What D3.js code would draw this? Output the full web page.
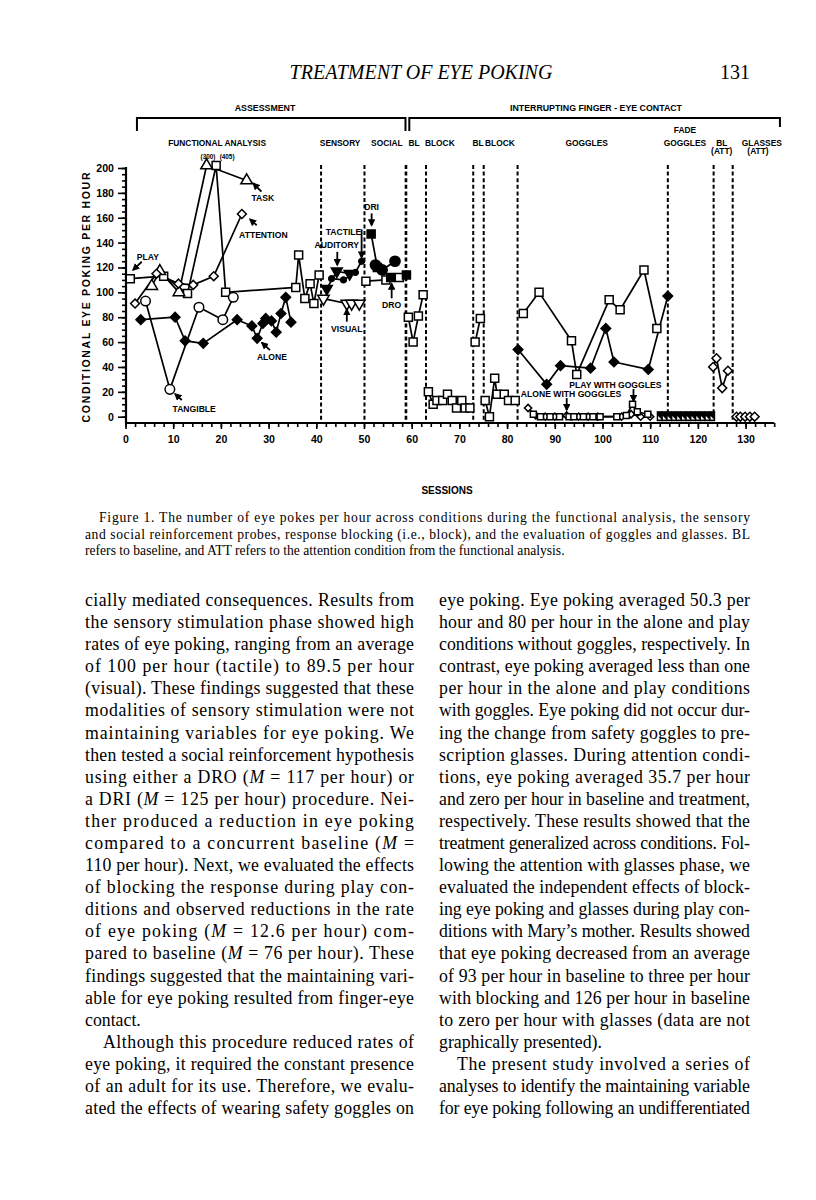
<!DOCTYPE html>
<html>
<head>
<meta charset="utf-8">
<title>Treatment of eye poking - Figure 1</title>
<script src="https://cdn.jsdelivr.net/npm/d3@7/dist/d3.min.js"></script>
<style>
  html, body { margin: 0; padding: 0; background: #fff; }
  svg { display: block; }
  .sans { font-family: "Liberation Sans", Arial, Helvetica, sans-serif; font-weight: bold; fill: #000; }
  .serif { font-family: "Liberation Serif", "Times New Roman", serif; fill: #000; white-space: pre; }
</style>
</head>
<body>
<svg id="page" width="816" height="1200"></svg>
<script>
// ---------- figure data: [session, eye pokes per hour] ----------
const sessionTicks = [0, 10, 20, 30, 40, 50, 60, 70, 80, 90, 100, 110, 120, 130];
const rateTicks = [0, 20, 40, 60, 80, 100, 120, 140, 160, 180, 200];
const phaseLines = [41, 50.1, 58.8, 63, 72.9, 75.1, 82.2, 113.7, 123.3, 127.3];

// functional analysis
const faPlay = [[1, 111], [8, 113], [13, 99], [19, 405], [21, 100], [35.7, 104], [36.3, 130], [37.6, 95], [38.7, 107], [39.5, 91], [40.6, 114]];
const faTask = [[5.5, 105], [7.2, 117], [11.2, 100], [17, 300], [25.4, 190]];
const faAttention = [[2, 91], [6.5, 115], [11.1, 107], [14.2, 106], [18.5, 113], [24.4, 163]];
const faTangible = [[4.2, 93], [9.3, 22], [15.4, 88], [20.4, 78], [22.6, 96]];
const faAlone = [[3.2, 78], [10.4, 80], [12.5, 61], [16.3, 59], [23.4, 78], [26.5, 73], [27.6, 63], [28.8, 75], [29.4, 79], [30.6, 77], [31.6, 68], [32.6, 83], [33.6, 96], [34.7, 76]];

// sensory and social probes
const visual = [[41.5, 95], [46.4, 91], [47.4, 91], [49, 91]];
const auditory = [[42.2, 103], [44.3, 117], [47, 115]];
const tactile = [[43.2, 111], [45.7, 110], [48.2, 116], [49.5, 125]];
const socialBL = [[50.4, 109], [54.6, 110], [57.4, 112]];
const dri = [[51.5, 147], [52.8, 120], [55.6, 112], [58.9, 114]];
const dro = [[52.4, 122], [53.8, 118], [56.5, 125]];

// baseline / blocking
const bl1 = [[59.3, 80], [60.3, 60], [61.4, 81], [62.4, 98]];
const block1 = [[63.5, 20], [64.5, 10], [65.3, 13], [66.5, 13], [67.5, 18], [68.5, 13], [69.4, 7], [70.5, 13], [71.2, 7], [72.2, 7]];
const bl2 = [[73.3, 60], [74.4, 79]];
const block2 = [[75.4, 13], [76.3, 0], [77.4, 31], [77.9, 18], [79.4, 18], [80.3, 13], [81.7, 13]];

// goggles
const aloneNoGoggles = [[82.3, 54], [88.3, 26], [91.2, 41], [97.5, 39], [100.7, 71], [102.4, 44], [109.6, 38], [113.7, 97]];
const playNoGoggles = [[83.4, 83], [86.7, 100], [93.5, 61], [94.6, 34], [101.4, 94], [103.7, 86], [108.7, 118], [111.4, 71]];
const aloneGoggles = [[84.4, 7], [86, 1], [88, 0], [90, 0], [92.5, 1], [95, 0], [97, 0], [99, 0], [104, 0], [106, 2], [108, 0], [110, 0]];
const playGoggles = [[85.5, 2], [87, 0], [89, 0], [91, 0], [93, 0], [94, 0], [96, 0], [98, 0], [99.5, 0], [103, 0], [105, 1], [106.3, 10], [107.3, 4], [109.5, 2]];
const fadeGoggles = [[112, 0], [113, 0], [114, 0], [115, 0], [116, 0], [117, 0], [118, 0], [119, 0], [120, 0], [121, 0], [122, 0], [123, 0]];
const blAtt = [[123.2, 40], [123.9, 47], [125.1, 23], [126.3, 37]];
const glassesAtt = [[128.1, 0], [128.9, 0], [129.9, 0], [130.9, 0], [131.9, 0]];

// labels pointing at the data (session, value)
const notes = [
  { text: "PLAY", at: [4.7, 128.6], from: [3.4, 124.6], to: [1.6, 118] },
  { text: "TASK", at: [28.8, 175.8], from: [28.5, 181], to: [26.8, 187.6] },
  { text: "ATTENTION", at: [28.9, 146], from: [27.5, 154], to: [26.1, 158.7] },
  { text: "ALONE", at: [30.7, 48.2], from: [30.3, 53.6], to: [28.6, 59.5] },
  { text: "TANGIBLE", at: [14.4, 5.9], from: [11.8, 13.4], to: [10.4, 18.2] },
  { text: "AUDITORY", at: [44.3, 138], from: [44.4, 132.6], to: [44.4, 122] },
  { text: "TACTILE", at: [45.7, 148.7], from: [49.5, 150.6], to: [49.5, 128] },
  { text: "DRI", at: [51.6, 168.8], from: [51.6, 163.5], to: [51.6, 154] },
  { text: "DRO", at: [55.8, 89.8], from: [55.8, 95.2], to: [55.8, 107] },
  { text: "VISUAL", at: [46.4, 70.3], from: [46.4, 76.4], to: [46.4, 86.3] },
  { text: "ALONE WITH GOGGLES", at: [93.4, 18.2], from: [92.5, 15], to: [92.5, 5.4] },
  { text: "PLAY WITH GOGGLES", at: [102.7, 25.5], from: [106.5, 22.3], to: [106.5, 12.6] },
  { text: "(300)", at: [17.3, 209.6] },
  { text: "(405)", at: [21.3, 209.6] }
];

// condition names above the plot (session centre, row)
const phaseNames = [
  ["FUNCTIONAL ANALYSIS", 19.2, 0], ["SENSORY", 45, 0], ["SOCIAL", 54.8, 0],
  ["BL", 60.5, 0], ["BLOCK", 65.9, 0], ["BL", 73.9, 0], ["BLOCK", 78.5, 0],
  ["GOGGLES", 96.7, 0], ["FADE", 117.3, -1], ["GOGGLES", 117.3, 0],
  ["BL", 125, 0], ["GLASSES", 133.4, 0], ["(ATT)", 125, 1], ["(ATT)", 132.6, 1]
];

// ---------- page text ----------
const caption = [
  "Figure 1.   The number of eye pokes per hour across conditions during the functional analysis, the sensory",
  "and social reinforcement probes, response blocking (i.e., block), and the evaluation of goggles and glasses. BL",
  "refers to baseline, and ATT refers to the attention condition from the functional analysis."
];
const leftColumn = [
  "cially mediated consequences. Results from",
  "the sensory stimulation phase showed high",
  "rates of eye poking, ranging from an average",
  "of 100 per hour (tactile) to 89.5 per hour",
  "(visual). These findings suggested that these",
  "modalities of sensory stimulation were not",
  "maintaining variables for eye poking. We",
  "then tested a social reinforcement hypothesis",
  "using either a DRO ({M} = 117 per hour) or",
  "a DRI ({M} = 125 per hour) procedure. Nei-",
  "ther produced a reduction in eye poking",
  "compared to a concurrent baseline ({M} =",
  "110 per hour). Next, we evaluated the effects",
  "of blocking the response during play con-",
  "ditions and observed reductions in the rate",
  "of eye poking ({M} = 12.6 per hour) com-",
  "pared to baseline ({M} = 76 per hour). These",
  "findings suggested that the maintaining vari-",
  "able for eye poking resulted from finger-eye",
  "contact.",
  "Although this procedure reduced rates of",
  "eye poking, it required the constant presence",
  "of an adult for its use. Therefore, we evalu-",
  "ated the effects of wearing safety goggles on"
];
const rightColumn = [
  "eye poking. Eye poking averaged 50.3 per",
  "hour and 80 per hour in the alone and play",
  "conditions without goggles, respectively. In",
  "contrast, eye poking averaged less than one",
  "per hour in the alone and play conditions",
  "with goggles. Eye poking did not occur dur-",
  "ing the change from safety goggles to pre-",
  "scription glasses. During attention condi-",
  "tions, eye poking averaged 35.7 per hour",
  "and zero per hour in baseline and treatment,",
  "respectively. These results showed that the",
  "treatment generalized across conditions. Fol-",
  "lowing the attention with glasses phase, we",
  "evaluated the independent effects of block-",
  "ing eye poking and glasses during play con-",
  "ditions with Mary\u2019s mother. Results showed",
  "that eye poking decreased from an average",
  "of 93 per hour in baseline to three per hour",
  "with blocking and 126 per hour in baseline",
  "to zero per hour with glasses (data are not",
  "graphically presented).",
  "The present study involved a series of",
  "analyses to identify the maintaining variable",
  "for eye poking following an undifferentiated"
];
const leftIndent = [20], leftLast = [19];
const rightIndent = [21], rightLast = [20];

// ---------- drawing ----------
const svg = d3.select("#page");
svg.append("rect").attr("width", 816).attr("height", 1200).attr("fill", "#fff");

const x = d3.scaleLinear().domain([0, 136]).range([125.5, 774.2]);
const y = d3.scaleLinear().domain([0, 200]).range([416.7, 168]);
const yc = v => y(Math.min(v, 202)); // off-scale points sit on the top edge
const xAxisY = 423, yAxisX = 126;

svg.append("defs").append("marker")
  .attr("id", "head")
  .attr("viewBox", "0 0 10 10")
  .attr("refX", 8).attr("refY", 5)
  .attr("markerWidth", 4.2).attr("markerHeight", 4.2)
  .attr("orient", "auto")
  .append("path").attr("d", "M0,0 L10,5 L0,10 z").attr("fill", "#000");

// header
svg.append("text").attr("class", "serif")
  .attr("x", 421).attr("y", 79).attr("text-anchor", "middle")
  .style("font-size", "20px").style("font-style", "italic")
  .text("TREATMENT OF EYE POKING");
svg.append("text").attr("class", "serif")
  .attr("x", 750).attr("y", 79).attr("text-anchor", "end")
  .style("font-size", "20px")
  .text("131");

// brackets and group titles
const br = svg.append("g").attr("fill", "none").attr("stroke", "#000").attr("stroke-width", 2);
br.append("path").attr("d", `M${x(2.4)},131V118H${x(58.7)}V131`);
br.append("path").attr("d", `M${x(59.5)},131V118H${x(137.2)}V127`);
svg.append("text").attr("class", "sans").attr("x", 265).attr("y", 111)
  .attr("text-anchor", "middle").style("font-size", "8.8px").text("ASSESSMENT");
svg.append("text").attr("class", "sans").attr("x", 596).attr("y", 111)
  .attr("text-anchor", "middle").style("font-size", "8.8px")
  .attr("textLength", 172).attr("lengthAdjust", "spacingAndGlyphs")
  .text("INTERRUPTING FINGER - EYE CONTACT");

const rowY = { "-1": 133, "0": 146, "1": 154 };
svg.append("g").selectAll("text")
  .data(phaseNames)
  .join("text")
  .attr("class", "sans")
  .attr("x", d => x(d[1]))
  .attr("y", d => rowY[d[2]])
  .attr("text-anchor", "middle")
  .style("font-size", "8.4px")
  .text(d => d[0]);

// phase change lines
svg.append("g").selectAll("line")
  .data(phaseLines)
  .join("line")
  .attr("x1", d => x(d)).attr("x2", d => x(d))
  .attr("y1", 165).attr("y2", 421)
  .attr("stroke", "#000")
  .attr("stroke-width", d => d === 58.8 ? 2.6 : 2)
  .attr("stroke-dasharray", "4,2.6");

// axes
const gxMinor = svg.append("g").attr("transform", `translate(0,${xAxisY})`)
  .call(d3.axisBottom(x).tickValues(d3.range(0, 137, 2)).tickSize(4).tickSizeOuter(0).tickFormat(""));
const gx = svg.append("g").attr("transform", `translate(0,${xAxisY})`)
  .call(d3.axisBottom(x).tickValues(sessionTicks).tickSize(6).tickSizeOuter(0).tickPadding(6).tickFormat(d3.format("d")));
const gyMinor = svg.append("g").attr("transform", `translate(${yAxisX},0)`)
  .call(d3.axisLeft(y).tickValues(d3.range(0, 201, 5)).tickSize(4).tickSizeOuter(0).tickFormat(""));
const gy = svg.append("g").attr("transform", `translate(${yAxisX},0)`)
  .call(d3.axisLeft(y).tickValues(rateTicks).tickSize(8).tickSizeOuter(0).tickPadding(4));

[gxMinor, gx, gyMinor, gy].forEach(g => {
  g.select(".domain").remove();
  g.selectAll(".tick line").attr("stroke", "#000").attr("stroke-width", 1.6);
  g.selectAll(".tick text").attr("class", "sans").attr("fill", "#000")
    .style("font-size", "10.6px").style("font-family", "'Liberation Sans', Arial, sans-serif").style("font-weight", "bold");
});
svg.append("line").attr("x1", yAxisX).attr("x2", x(136)).attr("y1", xAxisY).attr("y2", xAxisY)
  .attr("stroke", "#000").attr("stroke-width", 2.2);
svg.append("line").attr("x1", yAxisX).attr("x2", yAxisX).attr("y1", xAxisY + 1).attr("y2", y(200) - 1)
  .attr("stroke", "#000").attr("stroke-width", 2.2);

svg.append("text").attr("class", "sans")
  .attr("transform", `translate(86,${(y(200) + xAxisY) / 2 + 2}) rotate(-90)`)
  .attr("text-anchor", "middle").attr("dominant-baseline", "central")
  .style("font-size", "10.5px")
  .attr("textLength", 250).attr("lengthAdjust", "spacing")
  .text("CONDITIONAL EYE POKING PER HOUR");
svg.append("text").attr("class", "sans")
  .attr("x", 447).attr("y", 494).attr("text-anchor", "middle")
  .style("font-size", "10px").text("SESSIONS");

// data series
const marks = {
  square: { type: d3.symbolSquare, size: 64, fill: "#fff" },
  squareFilled: { type: d3.symbolSquare, size: 64, fill: "#000" },
  squareSmall: { type: d3.symbolSquare, size: 36, fill: "#fff" },
  diamond: { type: d3.symbolSquare, size: 40, fill: "#fff", rot: 45 },
  diamondFilled: { type: d3.symbolSquare, size: 46, fill: "#000", rot: 45 },
  diamondSmall: { type: d3.symbolSquare, size: 26, fill: "#fff", rot: 45 },
  circle: { type: d3.symbolCircle, size: 72, fill: "#fff" },
  circleFilled: { type: d3.symbolCircle, size: 82, fill: "#000" },
  dot: { type: d3.symbolCircle, size: 26, fill: "#000" },
  triangle: { type: d3.symbolTriangle, size: 58, fill: "#fff" },
  triangleDown: { type: d3.symbolTriangle, size: 58, fill: "#fff", rot: 180 },
  triangleDownFilled: { type: d3.symbolTriangle, size: 52, fill: "#000", rot: 180 }
};

const series = [
  { data: faPlay, mark: "square" },
  { data: faTask, mark: "triangle" },
  { data: faAttention, mark: "diamond" },
  { data: faTangible, mark: "circle" },
  { data: faAlone, mark: "diamondFilled" },
  { data: visual, mark: "triangleDown" },
  { data: auditory, mark: "triangleDownFilled" },
  { data: tactile, mark: "dot" },
  { data: socialBL, mark: "square" },
  { data: dri, mark: "squareFilled" },
  { data: dro, mark: "circleFilled" },
  { data: bl1, mark: "square" },
  { data: block1, mark: "square" },
  { data: bl2, mark: "square" },
  { data: block2, mark: "square" },
  { data: aloneNoGoggles, mark: "diamondFilled" },
  { data: playNoGoggles, mark: "square" },
  { data: aloneGoggles, mark: "diamondSmall" },
  { data: playGoggles, mark: "squareSmall" },
  { data: fadeGoggles, mark: "fade" },
  { data: blAtt, mark: "diamond" },
  { data: glassesAtt, mark: "diamond" }
];

const line = d3.line().x(d => x(d[0])).y(d => yc(d[1]));
const plot = svg.append("g");

plot.append("g").selectAll("path")
  .data(series)
  .join("path")
  .attr("d", d => line(d.data))
  .attr("fill", "none")
  .attr("stroke", "#000")
  .attr("stroke-width", 1.7)
  .attr("stroke-linejoin", "round");

series.forEach(s => {
  const g = plot.append("g");
  if (s.mark === "fade") {
    // overlapping sessions read as a solid band with small white notches
    g.selectAll("rect").data(s.data).join("rect")
      .attr("x", d => x(d[0]) - 3).attr("y", d => yc(d[1]) - 5.5)
      .attr("width", 6).attr("height", 10).attr("fill", "#000");
    g.selectAll("path").data(s.data).join("path")
      .attr("transform", d => `translate(${x(d[0])},${yc(d[1]) + 1})`)
      .attr("d", "M-1.6,1.8L-1.6,-1.6L1.8,1.8Z").attr("fill", "#fff");
    return;
  }
  const m = marks[s.mark];
  g.selectAll("path").data(s.data).join("path")
    .attr("transform", d => `translate(${x(d[0])},${yc(d[1])})` + (m.rot ? ` rotate(${m.rot})` : ""))
    .attr("d", d3.symbol().type(m.type).size(m.size))
    .attr("fill", m.fill)
    .attr("stroke", "#000")
    .attr("stroke-width", 1.5);
});

// annotations
const ann = svg.append("g");
ann.selectAll("text").data(notes).join("text")
  .attr("class", "sans")
  .attr("x", d => x(d.at[0])).attr("y", d => y(d.at[1]))
  .attr("text-anchor", "middle").attr("dominant-baseline", "central")
  .style("font-size", d => d.from ? "8.6px" : "6.4px")
  .text(d => d.text);
ann.selectAll("line").data(notes.filter(d => d.from)).join("line")
  .attr("x1", d => x(d.from[0])).attr("y1", d => y(d.from[1]))
  .attr("x2", d => x(d.to[0])).attr("y2", d => y(d.to[1]))
  .attr("stroke", "#000").attr("stroke-width", 1.8)
  .attr("marker-end", "url(#head)");

// caption
const cap = svg.append("g").attr("class", "serif").style("font-size", "13.6px");
caption.forEach((t, i) => {
  const x0 = i === 0 ? 99 : 85;
  const el = cap.append("text").attr("x", x0).attr("y", 522 + i * 16.5).text(t);
  if (i < 2) el.attr("textLength", 750 - x0).attr("lengthAdjust", "spacing");
});

// body columns
function column(lines, left, right, indents, lasts) {
  const g = svg.append("g").attr("class", "serif").style("font-size", "17.8px");
  lines.forEach((str, i) => {
    const x0 = left + (indents.includes(i) ? 18 : 0);
    const t = g.append("text").attr("x", x0).attr("y", 606 + i * 22.09);
    str.split(/(\{M\})/).forEach(part => {
      if (part === "{M}") t.append("tspan").style("font-style", "italic").text("M");
      else if (part) t.append("tspan").text(part);
    });
    if (!lasts.includes(i)) t.attr("textLength", right - x0).attr("lengthAdjust", "spacing");
  });
}
column(leftColumn, 85, 414, leftIndent, leftLast);
column(rightColumn, 439, 750, rightIndent, rightLast);
</script>
</body>
</html>
